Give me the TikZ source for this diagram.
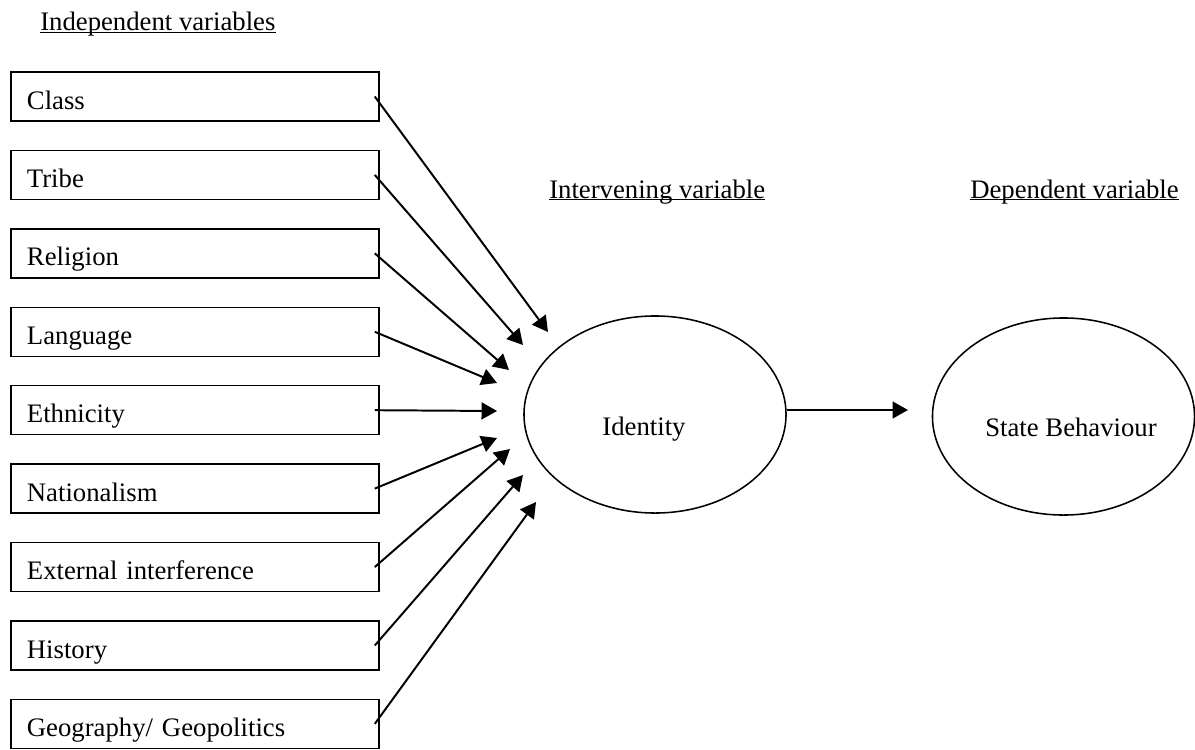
\documentclass[tikz,border=0pt]{standalone}
\usepackage{fontspec}
\setmainfont{Liberation Serif}
\usetikzlibrary{positioning,calc,arrows.meta,shapes.geometric}

\begin{document}
\begin{tikzpicture}[x=0.025cm,y=-0.025cm,font=\fontsize{19pt}{23pt}\selectfont,
box/.style={rectangle,draw,line width=1pt,minimum height=1.225cm,text width=8.4cm,
  inner xsep=0.4cm,align=left,text height=19pt,text depth=1.2pt},
oval/.style={ellipse,draw,line width=1.1pt,minimum width=6.55cm,minimum height=4.925cm,inner sep=0pt},
edge/.style={line width=1.4pt,-{Triangle[length=11pt,width=12pt]}},
heading/.style={anchor=base west,inner sep=0pt}]
\useasboundingbox (0,0) rectangle (1195,749);

% headings
\node[heading] (indep) at (40,31) {Independent variables};
\node[heading] (interv) at (549,198) {Intervening variable};
\node[heading] (dep) at (970,198) {Dependent variable};
\draw[line width=0.8pt] ([yshift=-1pt]indep.base west) -- ([yshift=-1pt]indep.base east);
\draw[line width=0.8pt] ([yshift=-1pt]interv.base west) -- ([yshift=-1pt]interv.base east);
\draw[line width=0.8pt] ([yshift=-1pt]dep.base west) -- ([yshift=-1pt]dep.base east);

% variable boxes
\node[box] (class) at (195,96.5) {Class};
\node[box,below=0.7cm of class] (tribe) {Tribe};
\node[box,below=0.7cm of tribe] (religion) {Religion};
\node[box,below=0.7cm of religion] (language) {Language};
\node[box,below=0.7cm of language] (ethnicity) {Ethnicity};
\node[box,below=0.7cm of ethnicity] (nationalism) {Nationalism};
\node[box,below=0.7cm of nationalism] (external) {External interference};
\node[box,below=0.7cm of external] (history) {History};
\node[box,below=0.7cm of history] (geography) {Geography/ Geopolitics};

% ovals
\node[oval] (identity) at (655,414.5) {};
\node[oval] (state) at (1063.5,416.5) {};
\node[anchor=base,inner sep=0pt] (identitytext) at ($(identity.center)+(-11,20.5)$) {Identity};
\node[anchor=base,inner sep=0pt] (statetext) at ($(state.center)+(7.5,19.5)$) {State Behaviour};

% arrow tips near identity
\coordinate (tclass) at (548,332);
\coordinate (ttribe) at (523,345);
\coordinate (treligion) at (509,370);
\coordinate (tlanguage) at (497,383);
\coordinate (tethnicity) at (497,411);
\coordinate (tnationalism) at (497,438);
\coordinate (texternal) at (510,449);
\coordinate (thistory) at (523,475);
\coordinate (tgeography) at (536,502);
\coordinate (tstate) at (908,410);

% edges
\draw[edge] ([xshift=-0.125cm]class.east) -- (tclass);
\draw[edge] ([xshift=-0.125cm]tribe.east) -- (ttribe);
\draw[edge] ([xshift=-0.125cm]religion.east) -- (treligion);
\draw[edge] ([xshift=-0.125cm]language.east) -- (tlanguage);
\draw[edge] ([xshift=-0.125cm]ethnicity.east) -- (tethnicity);
\draw[edge] ([xshift=-0.125cm]nationalism.east) -- (tnationalism);
\draw[edge] ([xshift=-0.125cm]external.east) -- (texternal);
\draw[edge] ([xshift=-0.125cm]history.east) -- (thistory);
\draw[edge] ([xshift=-0.125cm]geography.east) -- (tgeography);
\draw[edge] (identity.east |- tstate) -- (tstate);
\end{tikzpicture}
\end{document}
